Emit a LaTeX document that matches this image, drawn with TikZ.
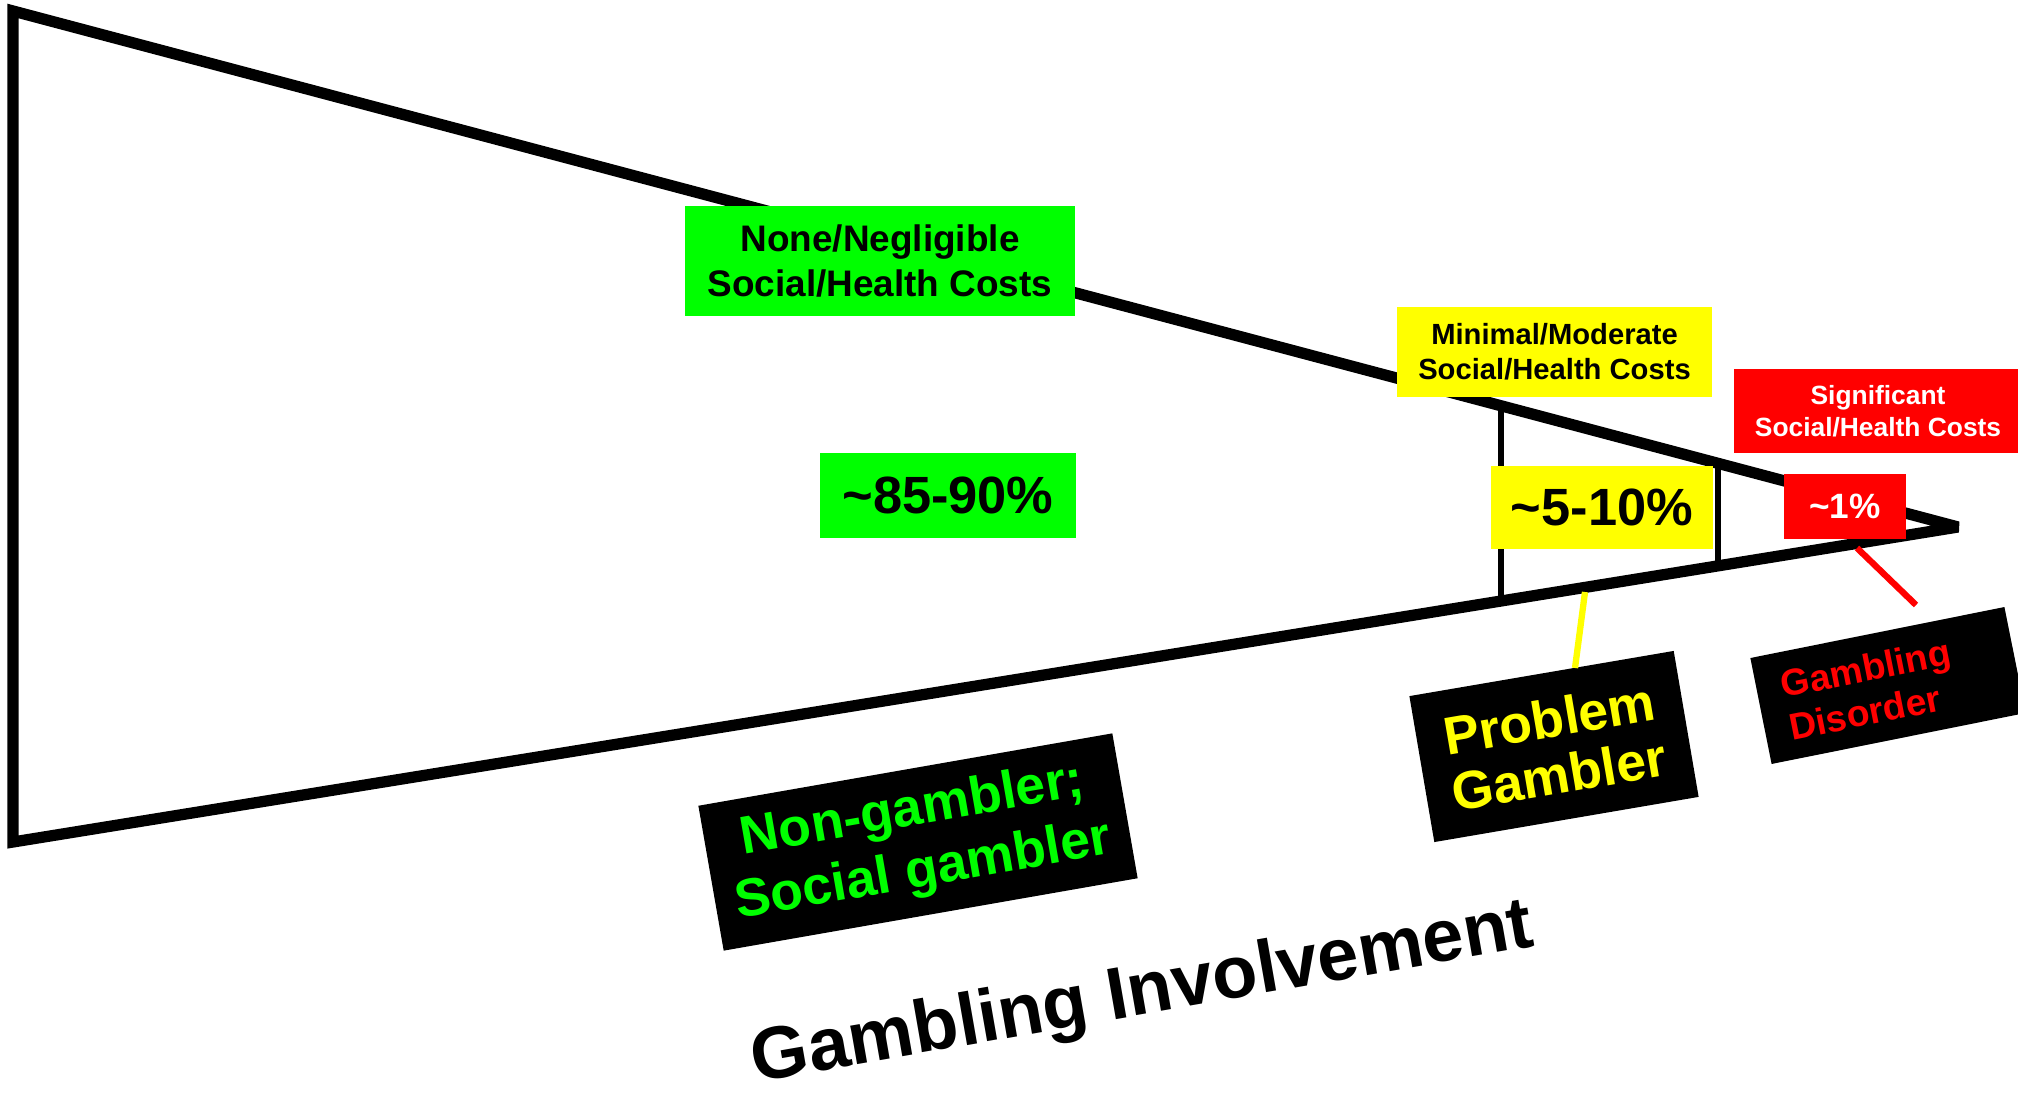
\documentclass[tikz,border=0pt]{standalone}
\usepackage{fontspec}
\setmainfont{Liberation Sans}

\definecolor{brightgreen}{RGB}{0,255,0}
\definecolor{brightyellow}{RGB}{255,255,0}
\definecolor{brightred}{RGB}{255,0,0}

\newcommand{\fs}[2]{\fontsize{#1}{#2}\selectfont\bfseries}

\begin{document}
\begin{tikzpicture}[x=0.01cm,y=-0.01cm,
  costbox/.style={inner sep=0,align=center},
  groupbox/.style={fill=black,inner sep=0,align=center}]

\useasboundingbox (0,0) rectangle (2018,1094);
\clip (0,0) rectangle (2018,1094);

\coordinate (tl) at (13,11);
\coordinate (bl) at (13,842);
\coordinate (tip) at (1958,527);
\coordinate (d1t) at (1501,406);
\coordinate (d1b) at (1501,601);
\coordinate (d2t) at (1718,464);
\coordinate (d2b) at (1718,566);

\draw[line width=3.2pt,line join=miter,miter limit=2] (tl) -- (tip) -- (bl) -- cycle;
\draw[line width=1.6pt] (d1t) -- (d1b);
\draw[line width=1.6pt] (d2t) -- (d2b);

\node[costbox,fill=brightgreen,minimum width=39mm,minimum height=11mm,font=\fs{10.5}{12.8}] (nonecost) at (880,261) {None/Negligible\\Social/Health Costs};
\node[costbox,fill=brightgreen,minimum width=25.6mm,minimum height=8.5mm,font=\fs{14.9}{17}] (nonepct) at (948,495.5) {\textasciitilde85-90\%};
\node[costbox,fill=brightyellow,minimum width=31.5mm,minimum height=9mm,font=\fs{8.3}{10}] (modcost) at (1554.5,352) {Minimal/Moderate\\Social/Health Costs};
\node[costbox,fill=brightyellow,minimum width=22.2mm,minimum height=8.3mm,font=\fs{14.9}{17}] (modpct) at (1602,507.5) {\textasciitilde5-10\%};
\node[costbox,fill=brightred,text=white,minimum width=28.8mm,minimum height=8.4mm,font=\fs{7.5}{9}] (sigcost) at (1878,411) {Significant\\Social/Health Costs};
\node[costbox,fill=brightred,text=white,minimum width=12.2mm,minimum height=6.5mm,font=\fs{10}{12}] (sigpct) at (1845,506.5) {\textasciitilde1\%};

\node[groupbox,rotate=9.92,minimum width=42mm,minimum height=14.7mm,text=brightgreen,font=\fs{15.2}{17.6}] (social) at (918,842) {Non-gambler;\\Social gambler};
\node[groupbox,rotate=9.7,minimum width=26.8mm,minimum height=14.8mm,text=brightyellow,font=\fs{15.2}{16.3}] (problem) at (1554,746.5) {Problem\\Gambler};
\node[groupbox,rotate=11.35,text width=20.9mm,align=left,inner xsep=2.5mm,minimum height=10.8mm,text=brightred,font=\fs{10.6}{12.3}] (disorder) at (1888,685.5) {Gambling\\Disorder};

\node[rotate=9.9,anchor=base,inner sep=0,font=\fs{21}{25}] (axis) at (1146,1014) {Gambling Involvement};

\coordinate (pgfoot) at (1585,592);
\coordinate (pgtop) at (1575,668);
\coordinate (gdtop) at (1857,548);
\coordinate (gdend) at (1916,605);
\draw[brightyellow,line width=1.8pt] (pgfoot) -- (pgtop);
\draw[brightred,line width=1.8pt] (gdtop) -- (gdend);

\end{tikzpicture}
\end{document}
